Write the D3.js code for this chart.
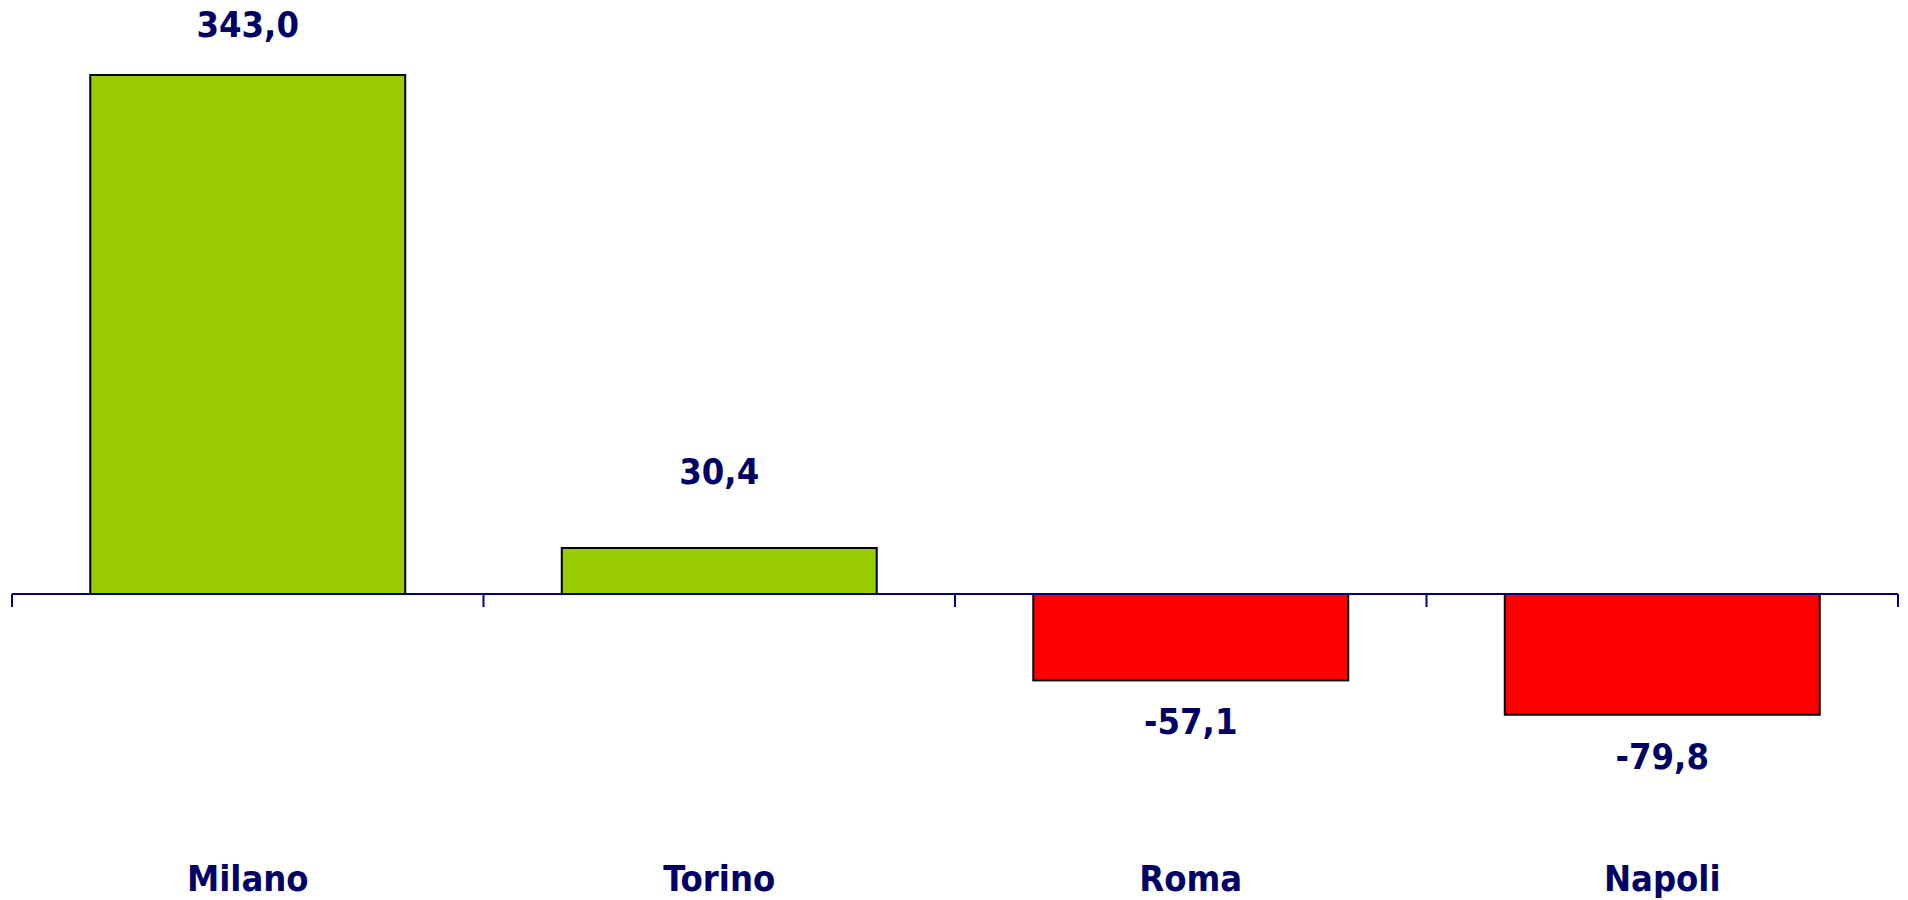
<!DOCTYPE html>
<html>
<head>
<meta charset="utf-8">
<script src="https://cdn.jsdelivr.net/npm/d3@7"></script>
<style>
  body { margin: 0; background: #fff; }
  text { font-family: "DejaVu Sans Condensed", "DejaVu Sans", sans-serif; font-weight: bold; fill: #000066; }
</style>
</head>
<body>
<svg id="chart" width="1908" height="900"></svg>
<script>
const cities = ['Milano', 'Torino', 'Roma', 'Napoli'];
const values = [343.0, 30.4, -57.1, -79.8];
const labels = ['343,0', '30,4', '-57,1', '-79,8'];

const svg = d3.select('#chart');
const data = cities.map((c, i) => ({ city: c, value: values[i], label: labels[i] }));

const x = d3.scaleBand()
  .domain(cities)
  .range([12, 1898])
  .paddingInner(0.332)
  .paddingOuter(0.166);

// zero line at 594, tallest bar top at 75
const y = d3.scaleLinear()
  .domain([0, d3.max(values)])
  .range([594, 75]);

const bars = svg.append('g').attr('class', 'bars');
bars.selectAll('rect')
  .data(data)
  .join('rect')
  .attr('x', d => x(d.city))
  .attr('width', x.bandwidth())
  .attr('y', d => Math.min(y(d.value), y(0)))
  .attr('height', d => Math.abs(y(d.value) - y(0)))
  .attr('fill', d => d.value >= 0 ? '#99cc00' : '#ff0000')
  .attr('stroke', '#000')
  .attr('stroke-width', 2);

// axis line with ticks at band boundaries
const axis = svg.append('g').attr('class', 'axis');
const [x0, x1] = x.range();
axis.append('line')
  .attr('x1', x0).attr('x2', x1)
  .attr('y1', y(0)).attr('y2', y(0))
  .attr('stroke', '#000080')
  .attr('stroke-width', 2);
const step = x.step();
axis.selectAll('line.tick')
  .data(d3.range(cities.length + 1))
  .join('line')
  .attr('class', 'tick')
  .attr('x1', i => x0 + i * step)
  .attr('x2', i => x0 + i * step)
  .attr('y1', y(0))
  .attr('y2', y(0) + 13)
  .attr('stroke', '#000080')
  .attr('stroke-width', 2);

// value labels
svg.append('g').selectAll('text')
  .data(data)
  .join('text')
  .attr('x', d => x(d.city) + x.bandwidth() / 2)
  .attr('y', d => d.value >= 0 ? Math.max(y(d.value) - 64, 37) : y(d.value) + 54)
  .attr('text-anchor', 'middle')
  .attr('font-size', 36)
  .text(d => d.label);

// category labels
svg.append('g').selectAll('text')
  .data(data)
  .join('text')
  .attr('x', d => x(d.city) + x.bandwidth() / 2)
  .attr('y', 891)
  .attr('text-anchor', 'middle')
  .attr('font-size', 36)
  .text(d => d.city);
</script>
</body>
</html>
